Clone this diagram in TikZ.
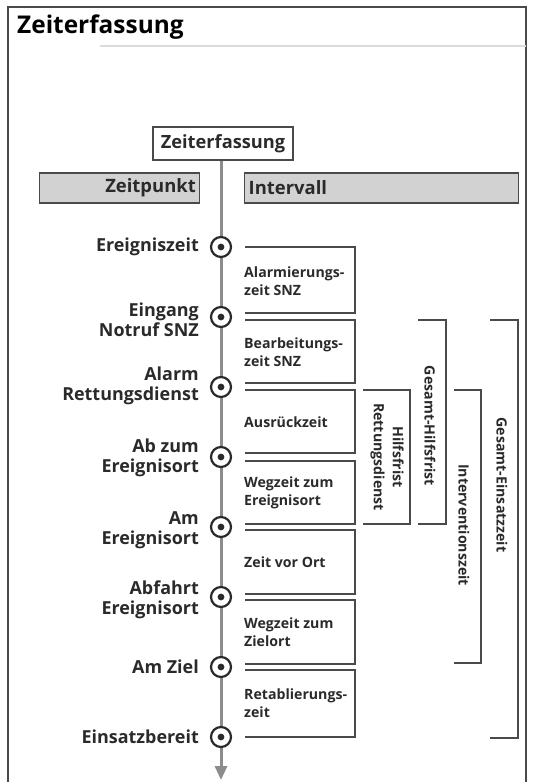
\documentclass[tikz,border=0pt]{standalone}
\usepackage{fontspec}
\setmainfont{Open Sans}
\usetikzlibrary{arrows.meta}
\definecolor{txt}{HTML}{2A2A2A}
\definecolor{ln}{HTML}{4A4A4A}
\definecolor{tl}{HTML}{8C8C8C}
\definecolor{hdr}{HTML}{D2D2D2}
\tikzset{
  lab/.style={anchor=east, align=right, text=txt, inner sep=0pt,
    font=\fontsize{18}{20.5}\selectfont\bfseries},
  ivtext/.style={anchor=west, align=left, text=txt, inner sep=0pt,
    font=\fontsize{14.2}{18}\selectfont\bfseries},
  brtext/.style={rotate=-90, align=center, text=txt, inner sep=0pt,
    font=\fontsize{14.2}{19}\selectfont\bfseries},
  ivbox/.style={draw=ln, line width=1.6bp},
  bracket/.style={draw=ln, line width=1.6bp},
  tick/.style={circle, draw=txt, fill=white, line width=2.2bp, minimum size=20bp, inner sep=0pt},
  hdrbox/.style={draw=ln, fill=hdr, line width=1.4bp, minimum height=30bp, inner sep=0pt, text=txt,
    font=\fontsize{18.5}{20}\selectfont\bfseries}
}
\begin{document}
\begin{tikzpicture}[x=1bp,y=-1bp]
\useasboundingbox (0,0) rectangle (536,782);
% frame
\draw[ln, line width=1.5bp] (8,782) -- (8,7) -- (526,7) -- (526,782);
\node[anchor=base west, inner sep=0pt, text=black, font=\fontsize{24.5}{26}\selectfont\bfseries] (title) at (17,34) {Zeiterfassung};
\draw[hdr!80!white, line width=2bp] (100,46) -- (526,46);
% headers
\node[draw=ln, line width=1.4bp, minimum width=140bp, minimum height=33bp, inner sep=0pt, text=txt,
  font=\fontsize{18.3}{20}\selectfont\bfseries] (zf) at (223,143.5) {Zeiterfassung};
\node[hdrbox, minimum width=160bp, anchor=east, text width=153bp, align=right] (zp) at (200,188) {Zeitpunkt};
\node[hdrbox, minimum width=274bp, anchor=west, text width=266bp, align=left] (iv) at (244,188) {Intervall};
% timeline
\coordinate (tend) at (221,780);
\draw[tl, line width=3bp, -{Triangle[width=12bp,length=14bp]}] (zf.south -| tend) -- (tend);
% ticks
\foreach \n/\y in {1/247,2/317,3/387,4/457,5/527,6/597,7/667,8/737}{
  \node[tick] (c\n) at (221,\y) {};
  \fill[txt] (c\n.center) circle (3.4bp);
}
% labels
\node[lab] (l1) at (199,247) {Ereigniszeit};
\node[lab] (l2) at (199,320) {Eingang\\Notruf SNZ};
\node[lab] (l3) at (199,386) {Alarm\\Rettungsdienst};
\node[lab] (l4) at (199,458) {Ab zum\\Ereignisort};
\node[lab] (l5) at (199,530) {Am\\Ereignisort};
\node[lab] (l6) at (199,600) {Abfahrt\\Ereignisort};
\node[lab] (l7) at (199,667) {Am Ziel};
\node[lab] (l8) at (199,737) {Einsatzbereit};
% interval boxes
\foreach \t/\b in {247/313,320/383,390/453,461/524,530/594,600/664,670/737}{
  \draw[ivbox] (245,\t) -| (355,\b) -- (245,\b);
}
\node[ivtext] (i1) at (244,281) {Alarmierungs-\\zeit SNZ};
\node[ivtext] (i2) at (244,352) {Bearbeitungs-\\zeit SNZ};
\node[ivtext] (i3) at (244,422) {Ausrückzeit};
\node[ivtext] (i4) at (244,493) {Wegzeit zum\\Ereignisort};
\node[ivtext] (i5) at (244,562) {Zeit vor Ort};
\node[ivtext] (i6) at (244,632) {Wegzeit zum\\Zielort};
\node[ivtext] (i7) at (244,703) {Retablierungs-\\zeit};
% brackets
\draw[bracket] (363,390) -| (410,524) -- (363,524);
\draw[bracket] (418,320) -| (446,524) -- (418,524);
\draw[bracket] (454,390) -| (481,663) -- (454,663);
\draw[bracket] (490,320) -| (518,738) -- (490,738);
\node[brtext] (b1) at (387,457) {Hilfsfrist\\Rettungsdienst};
\node[brtext] (b2) at (430,426) {Gesamt-Hilfsfrist};
\node[brtext] (b3) at (464,525) {Interventionszeit};
\node[brtext] (b4) at (502,485) {Gesamt-Einsatzzeit};
\end{tikzpicture}
\end{document}
